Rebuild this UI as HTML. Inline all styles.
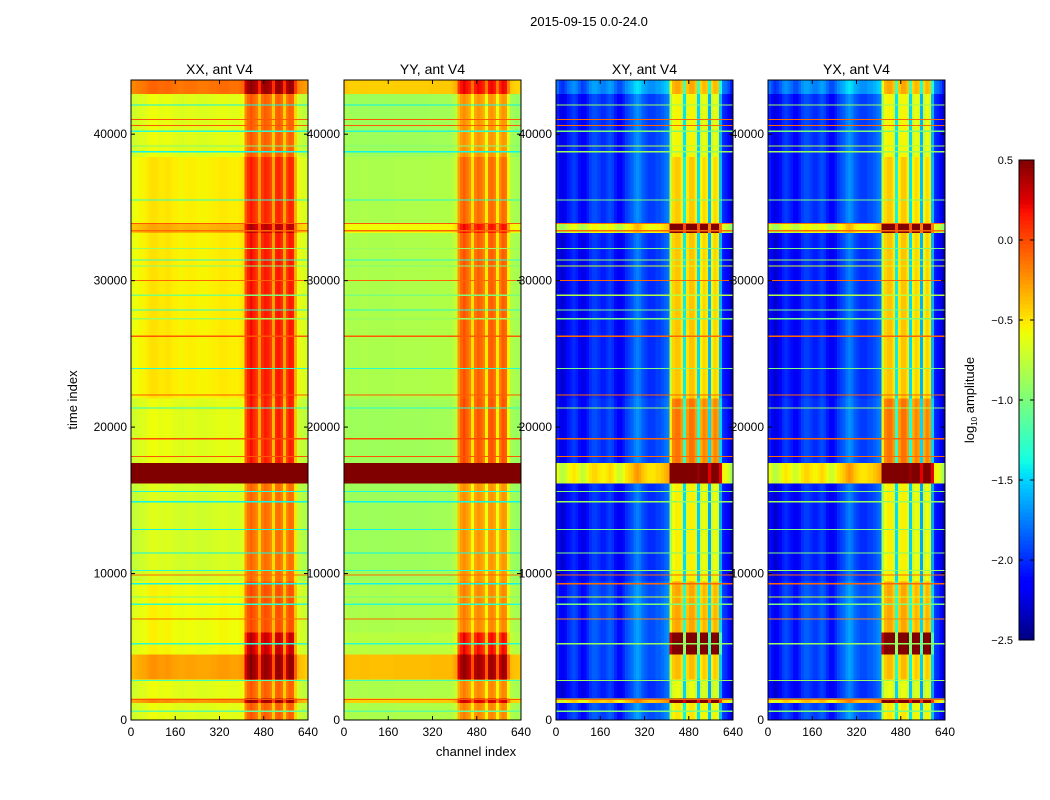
<!DOCTYPE html>
<html><head><meta charset="utf-8"><style>
body{margin:0;background:#fff;}
svg{display:block;font-family:"Liberation Sans",sans-serif;}
</style></head><body>
<svg id="chart" width="1050" height="800" viewBox="0 0 1050 800">
<rect width="1050" height="800" fill="#fff"/>
<text x="589" y="26" font-size="13" text-anchor="middle">2015-09-15 0.0-24.0</text>
<text transform="translate(77,400) rotate(-90)" font-size="13" text-anchor="middle">time index</text>
<text x="476" y="756" font-size="13" text-anchor="middle">channel index</text>
<g id="panels"></g>
<g id="cbar"></g>
<text transform="translate(974,400) rotate(-90)" font-size="13" text-anchor="middle">log<tspan font-size="8" dy="3">10</tspan><tspan dy="-3"> amplitude</tspan></text>
</svg>
<script>
// ---- data ----
const panelTitles = ["XX, ant V4","YY, ant V4","XY, ant V4","YX, ant V4"];
const xTicks = [0,160,320,480,640];
const yTicks = [0,10000,20000,30000,40000];
const cbTicks = [0.5,0.0,-0.5,-1.0,-1.5,-2.0,-2.5];
// time segment boundaries
const segStart = [0,1200,1500,2800,4500,6000,9500,16200,17600,22000,33300,33900,38500,42800];
const segEnd   = [1200,1500,2800,4500,6000,9500,16200,17600,22000,33300,33900,38500,42800,43700];
const segAuto  = [0.05,0.45,0.05,0.4,0.1,0.1,0.0,1.4,0.05,0.15,0.35,0.15,0.05,0.55];
const segYY    = [0.05,0.45,0.05,0.5,0.1,0.05,0.0,1.5,0.0,0.05,0.3,0.05,0.0,0.45];
const segCross = [0.1,1.6,0.0,0.1,0.1,0.1,0.0,1.5,0.05,0.0,1.4,0.05,0.05,0.3];
const segRfiAuto  = [0.6,0.7,0.6,0.8,1.0,0.6,0.6,1.1,0.85,0.75,0.75,0.7,0.6,0.6];
const segRfiCross = [1.0,1.3,1.0,1.1,2.0,1.15,1.05,2.1,1.3,1.15,1.2,1.1,1.0,1.0];
// channel profiles (64 bins of 10 channels)
const baseXX = [-0.75,-0.74,-0.72,-0.7,-0.7,-0.68,-0.65,-0.63,-0.63,-0.64,-0.66,-0.66,-0.65,-0.64,-0.66,-0.68,-0.68,-0.7,-0.7,-0.69,-0.68,-0.68,-0.68,-0.69,-0.7,-0.7,-0.7,-0.7,-0.69,-0.68,-0.68,-0.67,-0.66,-0.66,-0.66,-0.67,-0.68,-0.68,-0.68,-0.66,-0.64,-0.62,-0.62,-0.62,-0.62,-0.62,-0.62,-0.62,-0.62,-0.62,-0.62,-0.62,-0.62,-0.62,-0.62,-0.62,-0.62,-0.62,-0.62,-0.62,-0.75,-0.78,-0.8,-0.82];
const baseYY = [-0.85,-0.86,-0.88,-0.88,-0.88,-0.88,-0.87,-0.87,-0.87,-0.88,-0.88,-0.88,-0.88,-0.88,-0.88,-0.88,-0.88,-0.88,-0.87,-0.87,-0.87,-0.87,-0.87,-0.87,-0.87,-0.87,-0.87,-0.87,-0.87,-0.87,-0.87,-0.86,-0.86,-0.86,-0.86,-0.86,-0.86,-0.86,-0.86,-0.82,-0.78,-0.75,-0.75,-0.75,-0.75,-0.75,-0.75,-0.75,-0.75,-0.75,-0.75,-0.75,-0.75,-0.75,-0.75,-0.75,-0.75,-0.75,-0.75,-0.75,-0.85,-0.88,-0.9,-0.9];
const baseXY = [-2.1,-2.25,-2.3,-2.2,-2.1,-2.05,-2.0,-2.05,-2.15,-2.25,-2.2,-2.1,-2.0,-1.95,-1.95,-2.0,-2.05,-2.05,-2.0,-1.95,-2.0,-2.1,-2.2,-2.2,-2.1,-2.0,-1.95,-1.9,-1.8,-1.75,-1.8,-1.9,-1.95,-2.0,-2.0,-2.0,-1.95,-1.95,-1.9,-1.85,-1.8,-2.0,-2.0,-2.0,-2.0,-2.0,-2.0,-2.0,-2.0,-2.0,-2.0,-2.0,-2.0,-2.0,-2.0,-2.0,-2.0,-2.0,-2.0,-2.0,-2.05,-2.1,-2.2,-2.35];
const baseYX = [-2.1,-2.2,-2.3,-2.25,-2.15,-2.05,-2.0,-2.05,-2.1,-2.2,-2.2,-2.1,-2.0,-1.95,-1.95,-2.0,-2.05,-2.05,-2.0,-1.95,-2.0,-2.1,-2.2,-2.2,-2.1,-2.0,-1.95,-1.9,-1.8,-1.75,-1.8,-1.9,-1.95,-2.0,-2.0,-2.0,-1.95,-1.95,-1.9,-1.85,-1.8,-2.0,-2.0,-2.0,-2.0,-2.0,-2.0,-2.0,-2.0,-2.0,-2.0,-2.0,-2.0,-2.0,-2.0,-2.0,-2.0,-2.0,-2.0,-2.0,-2.05,-2.1,-2.2,-2.35];
// RFI column pattern (channels 410-600)
const rfiAuto  = [0,0,0,0,0,0,0,0,0,0,0,0,0,0,0,0,0,0,0,0,0,0,0,0,0,0,0,0,0,0,0,0,0,0,0,0,0,0,0,0,0,0.6,0.8,0.9,0.8,0.7,0.3,0.75,0.85,0.8,0.7,0.25,0.8,0.85,0.75,0.25,0.7,0.85,0.8,0.2,0,0,0,0];
const rfiCross = [0,0,0,0,0,0,0,0,0,0,0,0,0,0,0,0,0,0,0,0,0,0,0,0,0,0,0,0,0,0,0,0,0,0,0,0,0,0,0,0,0,1.1,1.35,1.4,1.4,1.3,0.5,1.3,1.4,1.4,1.3,0.45,1.25,1.35,1.3,0.35,1.25,1.35,1.3,0.35,0,0,0,0];
// horizontal lines: time, auto value, cross value
const lineT     = [600,1400,2700,5200,6900,7900,8400,9300,9900,10200,11400,13000,14900,15600,18000,19200,21300,22200,24000,26200,27400,28000,29000,30000,31000,31400,32200,33400,33900,35500,38800,39200,40200,40600,41000,42000];
const lineAuto  = [-1.1,-0.05,-1.2,-1.3,-0.1,-1.3,-1.0,-1.4,-0.1,-1.3,-1.4,-1.4,-1.4,-1.35,-0.05,0.0,-1.3,-0.05,-1.3,-0.05,-0.9,-1.3,-1.0,-0.1,-1.0,-1.3,-0.9,-0.1,-0.05,-1.3,-1.4,-1.0,-1.3,-0.05,-0.05,-1.4];
const lineCross = [-1.0,-0.1,-0.9,-0.9,-0.2,-1.0,-0.7,-0.1,-0.1,-0.9,-1.0,-1.0,-0.9,-1.0,-0.1,-0.1,-0.9,-0.1,-1.0,-0.1,-1.0,-1.0,-0.8,-0.1,-0.7,-0.9,-1.0,-0.1,-0.1,-1.0,-0.9,-0.8,-1.0,-0.1,-0.1,-0.9];

// ---- layout ----
const panelX = [131,344,556,768], PW = 177, PT = 80, PB = 720;
const TMAX = 43700, CMAX = 640, VMIN = -2.5, VMAX = 0.5;
const NS = "http://www.w3.org/2000/svg";
function xScale(i,c){return panelX[i] + c/CMAX*PW;}
function yScale(t){return PB - t/TMAX*(PB-PT);}
function interp(pts,x){
  for(let i=1;i<pts.length;i++){
    if(x<=pts[i][0]){const a=pts[i-1],b=pts[i];return a[1]+(b[1]-a[1])*(x-a[0])/(b[0]-a[0]);}
  }
  return pts[pts.length-1][1];
}
const JR=[[0,0],[0.35,0],[0.66,1],[0.89,1],[1,0.5]];
const JG=[[0,0],[0.125,0],[0.375,1],[0.64,1],[0.91,0],[1,0]];
const JB=[[0,0.5],[0.11,1],[0.34,1],[0.65,0],[1,0]];
function jet(v){
  let x=(v-VMIN)/(VMAX-VMIN); x=Math.max(0,Math.min(1,x));
  const r=interp(JR,x), g=interp(JG,x), b=interp(JB,x);
  return `rgb(${Math.round(r*255)},${Math.round(g*255)},${Math.round(b*255)})`;
}
function mk(tag,attrs,parent){const e=document.createElementNS(NS,tag);for(const k in attrs)e.setAttribute(k,attrs[k]);parent.appendChild(e);return e;}

const panelsG = document.getElementById('panels');
const bases = [baseXX,baseYY,baseXY,baseYX];
for(let p=0;p<4;p++){
  const g = mk('g',{},panelsG);
  
  
  const cross = p>=2;
  const base = bases[p];
  const hm = mk('g',{'shape-rendering':'crispEdges'},g);
  
  
  const nb = base.length, bw = CMAX/nb;
  for(let s=0;s<segStart.length;s++){
    const y0=yScale(segEnd[s]), y1=yScale(segStart[s]);
    for(let c=0;c<nb;c++){
      let v;
      if(cross) v = base[c] + segCross[s] + rfiCross[c]*segRfiCross[s];
      else v = base[c] + (p==0?segAuto[s]:segYY[s]) + rfiAuto[c]*segRfiAuto[s];
      if(v>VMAX) v=VMAX;
      const x0=xScale(p,c*bw), x1=xScale(p,(c+1)*bw);
      const r = mk('rect',{x:x0.toFixed(2),y:y0.toFixed(2),width:(x1-x0+0.6).toFixed(2),height:(y1-y0+0.6).toFixed(2),fill:jet(v)},hm);
      
      
    }
  }
  for(let l=0;l<lineT.length;l++){
    const y=yScale(lineT[l]);
    const ln = mk('line',{x1:xScale(p,0),x2:xScale(p,CMAX),y1:y,y2:y,stroke:jet(cross?lineCross[l]:lineAuto[l]),'stroke-width':1.2},hm);
    
    
  }
  const frame = mk('rect',{x:panelX[p],y:PT,width:PW,height:PB-PT,fill:'none',stroke:'#000','stroke-width':1},g);
  
  
  const tt = mk('text',{x:panelX[p]+PW/2,y:PT-6,'font-size':14,'text-anchor':'middle'},g);
  tt.textContent = panelTitles[p];
  
  
  for(const t of xTicks){
    const x=xScale(p,t);
    mk('line',{x1:x,x2:x,y1:PB,y2:PB-4,stroke:'#000'},g);
    mk('line',{x1:x,x2:x,y1:PT,y2:PT+4,stroke:'#000'},g);
    const lb = mk('text',{x:x,y:PB+16,'font-size':12,'text-anchor':'middle'},g);
    lb.textContent = t;
    
    
  }
  for(const t of yTicks){
    const y=yScale(t);
    mk('line',{x1:panelX[p],x2:panelX[p]+4,y1:y,y2:y,stroke:'#000'},g);
    mk('line',{x1:panelX[p]+PW,x2:panelX[p]+PW-4,y1:y,y2:y,stroke:'#000'},g);
    const lb = mk('text',{x:panelX[p]-4,y:y+4,'font-size':12,'text-anchor':'end'},g);
    lb.textContent = t;
    
    
  }
}
// colorbar
const cb = document.getElementById('cbar');


const CBX=1019, CBW=15, CBT=160, CBB=640;
const cbG = mk('g',{'shape-rendering':'crispEdges'},cb);
for(let i=0;i<120;i++){
  const v = VMIN + (i+0.5)/120*(VMAX-VMIN);
  const y = CBB - (i+1)/120*(CBB-CBT);
  mk('rect',{x:CBX,y:y,width:CBW,height:(CBB-CBT)/120+0.6,fill:jet(v)},cbG);
}
mk('rect',{x:CBX,y:CBT,width:CBW,height:CBB-CBT,fill:'none',stroke:'#000'},cb);
for(const t of cbTicks){
  const y = CBB - (t-VMIN)/(VMAX-VMIN)*(CBB-CBT);
  mk('line',{x1:CBX,x2:CBX+4,y1:y,y2:y,stroke:'#000'},cb);
  mk('line',{x1:CBX+CBW,x2:CBX+CBW-4,y1:y,y2:y,stroke:'#000'},cb);
  const lb = mk('text',{x:CBX-6,y:y+4,'font-size':11,'text-anchor':'end'},cb);
  lb.textContent = (t<0?'\u2212':'')+Math.abs(t).toFixed(1);
  
  
}
</script>
</body></html>
